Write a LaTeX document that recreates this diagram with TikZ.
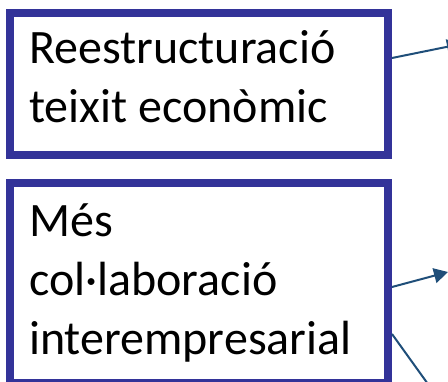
\documentclass[tikz,border=0pt]{standalone}
\usepackage{fontspec}
\setmainfont{Carlito}
\usepackage{xcolor}
\usetikzlibrary{arrows.meta}
\definecolor{boxblue}{RGB}{51,51,153}
\definecolor{arrowblue}{RGB}{31,78,121}

\begin{document}
\begin{tikzpicture}[x=1pt,y=-1pt,
	caixa/.style={draw=boxblue,line width=8pt,fill=white,inner sep=0pt},
	texte/.style={inner sep=0pt,align=left,font=\fontsize{48}{59}\selectfont},
	fletxa/.style={draw=arrowblue,line width=2pt,-{Triangle[length=14pt,width=15pt]}}]
		\useasboundingbox (0,0) rectangle (448,382);
		\node[caixa,minimum width=378pt,minimum height=142pt] (box1) at (199,84) {};
		\node[caixa,minimum width=378pt,minimum height=200pt] (box2) at (199,283) {};
		\node[texte,anchor=base west] (t1) at (29,123) {Reestructuració\\teixit econòmic};
		\node[texte,anchor=base west] (t2) at (29,355) {Més\\col·laboració\\interempresarial};
		\coordinate (f1) at (461,44);
		\coordinate (f2) at (448,272);
		\coordinate (f3) at (438,398);
		\draw[fletxa] ([yshift=26pt]box1.east) -- (f1);
		\draw[fletxa] ([yshift=-4pt]box2.east) -- (f2);
		\draw[fletxa] ([yshift=-51pt]box2.east) -- (f3);
		\end{tikzpicture}
\end{document}
